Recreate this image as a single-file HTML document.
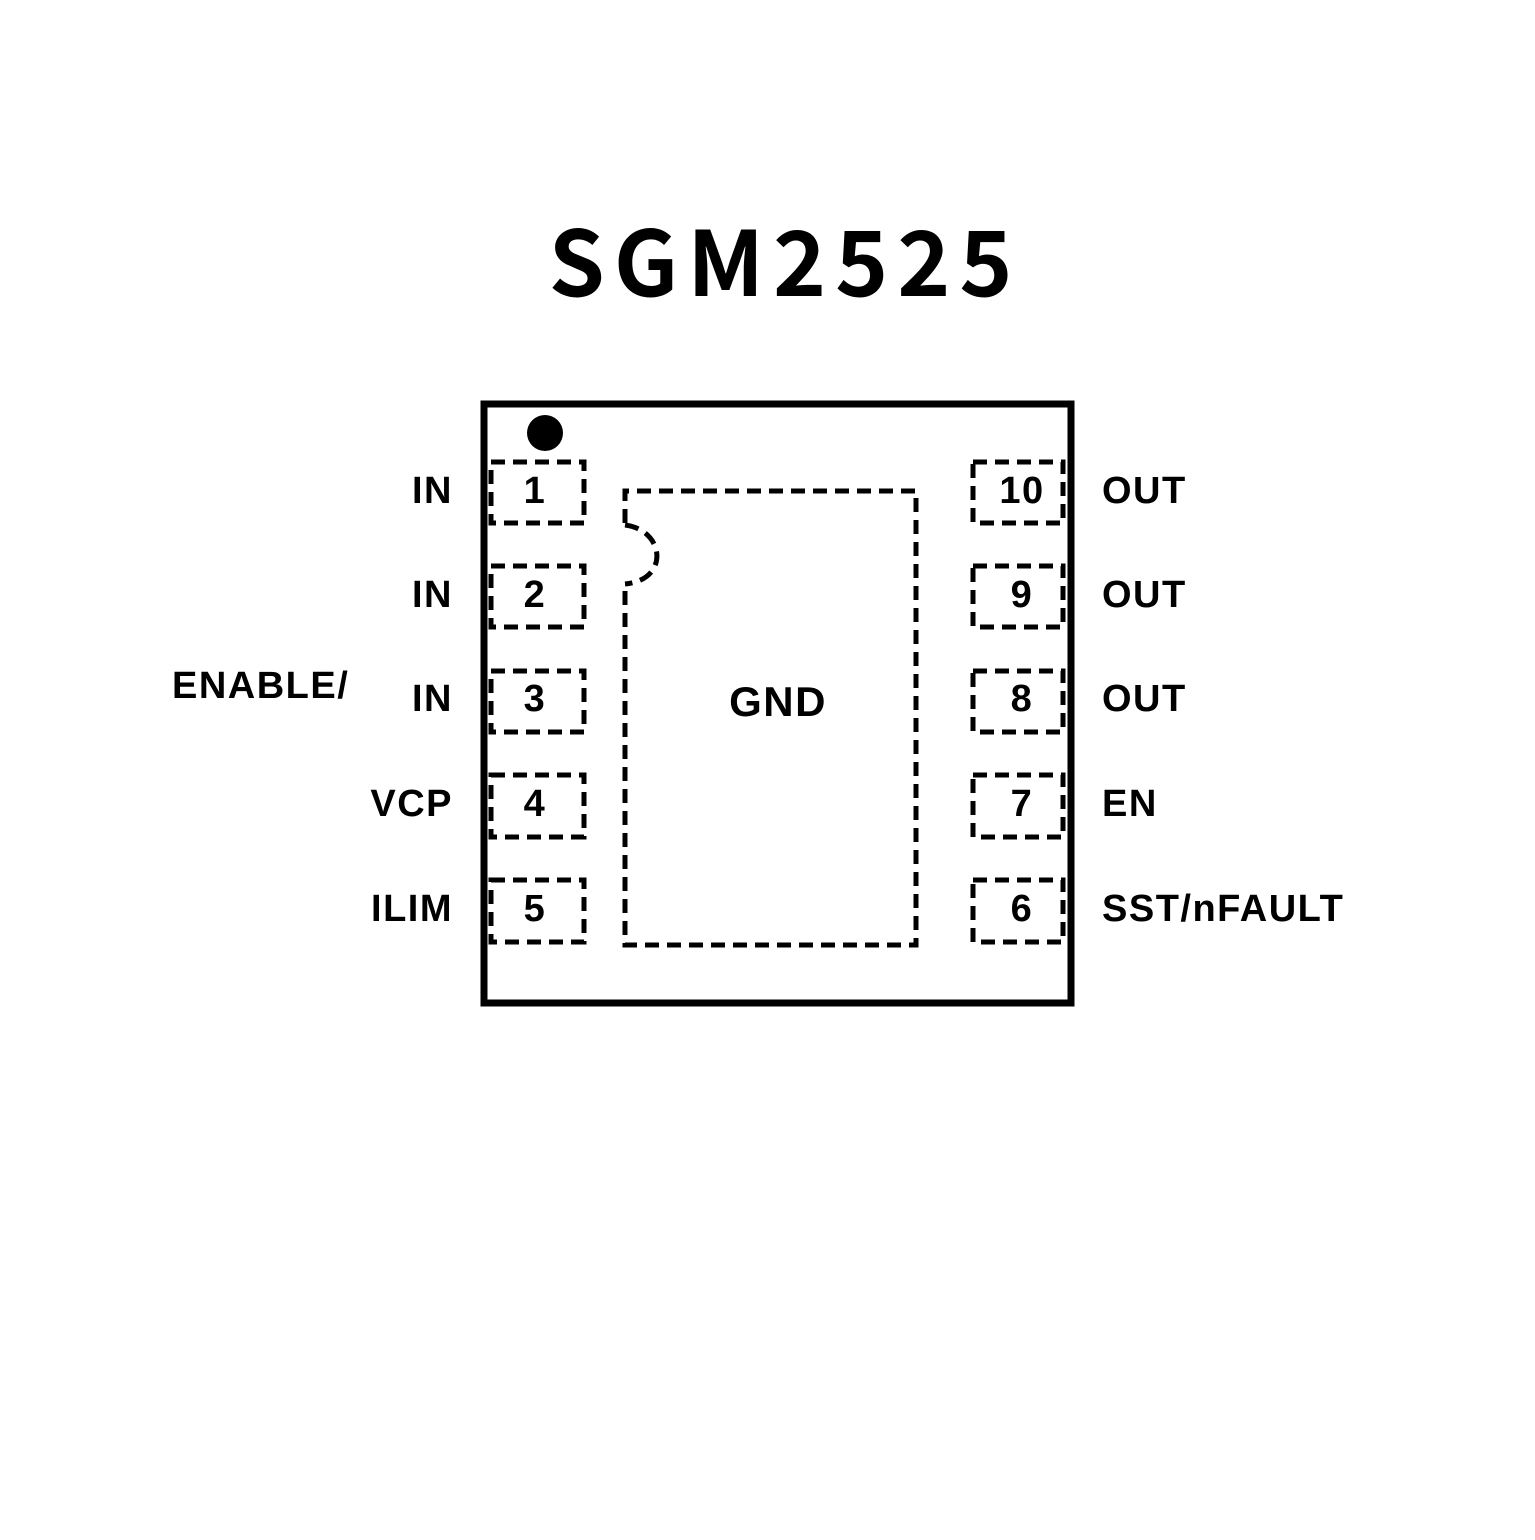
<!DOCTYPE html>
<html><head><style>body{margin:0;background:#fff}</style></head><body>
<svg width="1535" height="1535" xmlns="http://www.w3.org/2000/svg">
<rect width="1535" height="1535" fill="#fff"/>
<text x="785" y="296" text-anchor="middle" font-family="'Noto Sans CJK SC','DejaVu Sans',sans-serif" font-weight="bold" font-size="90" letter-spacing="9" fill="#000">SGM2525</text>
<rect x="484" y="404" width="587" height="599" fill="none" stroke="#000" stroke-width="7"/>
<circle cx="545" cy="433" r="18" fill="#000"/>
<g fill="none" stroke="#000" stroke-width="5" stroke-dasharray="14 8">
<rect x="491" y="462" width="93" height="61"/>
<rect x="491" y="566" width="93" height="61"/>
<rect x="491" y="671" width="93" height="61"/>
<rect x="491" y="775" width="93" height="62"/>
<rect x="491" y="880" width="93" height="62"/>
<rect x="973" y="462" width="90" height="61"/>
<rect x="973" y="566" width="90" height="61"/>
<rect x="973" y="671" width="90" height="61"/>
<rect x="973" y="775" width="90" height="62"/>
<rect x="973" y="880" width="90" height="62"/>
<path d="M625 523 L625 491 L916 491 L916 945 L625 945 L625 588"/>
<path d="M625 525 C665 530 670 580 625 584"/>
</g>
<g font-family="'Liberation Sans',Arial,sans-serif" font-weight="bold" font-size="38" fill="#000" letter-spacing="1.5">
<g text-anchor="middle">
<text x="535" y="503">1</text><text x="535" y="607">2</text><text x="535" y="711">3</text><text x="535" y="816">4</text><text x="535" y="921">5</text>
<text x="1022" y="503">10</text><text x="1022" y="607">9</text><text x="1022" y="711">8</text><text x="1022" y="816">7</text><text x="1022" y="921">6</text>
<text x="778" y="716" font-size="42">GND</text>
</g>
<g text-anchor="end">
<text x="453" y="503">IN</text><text x="453" y="607">IN</text><text x="453" y="711">IN</text><text x="453" y="816">VCP</text><text x="453" y="921">ILIM</text>
</g>
<text x="172" y="698">ENABLE/</text>
<text x="1102" y="503">OUT</text><text x="1102" y="607">OUT</text><text x="1102" y="711">OUT</text><text x="1102" y="816">EN</text><text x="1102" y="921">SST/nFAULT</text>
</g>
</svg>
</body></html>
